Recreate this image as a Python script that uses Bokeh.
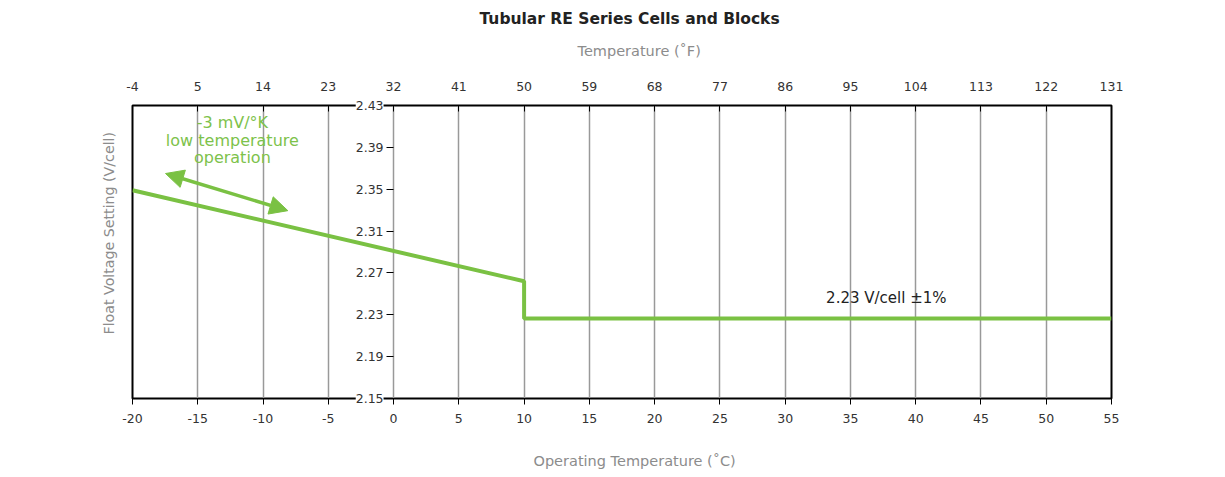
from bokeh.plotting import figure
from bokeh.models import (LinearAxis, Range1d, FixedTicker, Title, Arrow, NormalHead,
                          Label, CustomLabelingPolicy)
from bokeh.core.properties import value
from bokeh.embed import file_html
from bokeh.resources import INLINE

# ---- data ----
temp_c = [-20, 10, 10, 55]
float_v = [2.349, 2.262, 2.2265, 2.2265]
c_ticks = [-20, -15, -10, -5, 0, 5, 10, 15, 20, 25, 30, 35, 40, 45, 50, 55]
f_ticks = [-4, 5, 14, 23, 32, 41, 50, 59, 68, 77, 86, 95, 104, 113, 122, 131]
v_ticks = [2.15, 2.19, 2.23, 2.27, 2.31, 2.35, 2.39, 2.43]
note_lines = ["-3 mV/°K", "low temperature", "operation"]
note_x = [-12.35, -12.35, -12.35]
note_y = [2.414, 2.397, 2.380]
arrow_x = [-17.47, -8.1]
arrow_y = [2.365, 2.3295]
band_label = ["2.23 V/cell ±1%"]
band_x = [37.75]
band_y = [2.2459]

FONT = "DejaVu Sans"
GREEN = "#7ac143"
TEXT_GREEN = "#7dc24b"
GREY = "#8c8c8c"
TICK_COL = "#333333"

p = figure(frame_width=979, frame_height=293, output_backend="svg", toolbar_location=None,
           x_range=Range1d(-20, 55), y_range=Range1d(2.15, 2.43),
           min_border_left=132, min_border_right=106, min_border_bottom=0, min_border_top=105,
           title="Tubular RE Series Cells and Blocks")
p.extra_x_ranges = {"f": Range1d(-4, 131)}

p.outline_line_color = "black"
p.outline_line_width = 2
p.outline_line_alpha = 1

# bottom axis (Celsius)
xa = p.xaxis[0]
xa.ticker = FixedTicker(ticks=c_ticks)
xa.major_label_overrides = {t: str(t) for t in c_ticks}
xa.major_tick_out = 6
xa.major_tick_in = 0
xa.minor_tick_line_color = None
xa.major_tick_line_color = "black"
xa.axis_line_color = "black"
xa.major_label_standoff = 9
xa.major_label_text_font = FONT
xa.major_label_text_font_size = "12.5px"
xa.major_label_text_color = TICK_COL

# grid
p.xgrid.ticker = FixedTicker(ticks=c_ticks)
p.xgrid.grid_line_color = "#999999"
p.xgrid.grid_line_width = 1.5
p.ygrid.grid_line_color = None

# y axis at 0 C (tick marks only); its labels are drawn as labels
ya = p.yaxis[0]
ya.fixed_location = 0
ya.ticker = FixedTicker(ticks=v_ticks)
ya.major_tick_out = 7
ya.major_tick_in = 0
ya.minor_tick_line_color = None
ya.axis_line_color = None
ya.major_tick_line_color = "black"
ya.major_label_policy = CustomLabelingPolicy(code="return []")

# top axis (Fahrenheit)
top = LinearAxis(x_range_name="f", ticker=FixedTicker(ticks=f_ticks))
top.major_label_overrides = {t: str(t) for t in f_ticks}
top.major_tick_in = 6
top.major_tick_out = 0
top.minor_tick_line_color = None
top.major_tick_line_color = "black"
top.axis_line_color = "black"
top.major_label_standoff = 15
top.major_label_text_font = FONT
top.major_label_text_font_size = "12.5px"
top.major_label_text_color = TICK_COL
p.add_layout(top, "above")

# y tick labels; the two end ones sit in the side panels so the frame does not clip them
for v in v_ticks:
    lab = Label(x=0, y=v, text=f"{v:.2f}", x_offset=-10, text_align="right",
                text_baseline="middle", text_font=FONT, text_font_size="12.5px",
                text_color=TICK_COL, background_fill_color="white", background_fill_alpha=1.0)
    if v == max(v_ticks):
        p.add_layout(lab, "above")
    elif v == min(v_ticks):
        p.add_layout(lab, "below")
    else:
        p.add_layout(lab)

tF = Title(text="Temperature (˚F)", align="left", offset=445, text_font=FONT,
           text_font_size="14.5px", text_font_style="normal", text_color=GREY, standoff=22)
p.add_layout(tF, "above")

p.title.align = "left"
p.title.offset = 347
p.title.standoff = 3
p.title.text_font = FONT
p.title.text_font_size = "15.5px"
p.title.text_font_style = "bold"
p.title.text_color = "#222222"

tC = Title(text="Operating Temperature (˚C)", align="left", offset=401, text_font=FONT,
           text_font_size="14.5px", text_font_style="normal", text_color=GREY, standoff=32)
p.add_layout(tC, "below")

tV = Title(text="Float Voltage Setting (V/cell)", align="left", offset=64, text_font=FONT,
           text_font_size="14.2px", text_font_style="normal", text_color=GREY, standoff=32)
p.add_layout(tV, "left")

# data line
p.line(temp_c, float_v, line_color=GREEN, line_width=4)

# annotation
p.text(note_x, note_y, text=note_lines, text_font=value(FONT), text_font_size="16px",
       text_color=TEXT_GREEN, text_align="center", text_baseline="middle")
p.add_layout(Arrow(start=NormalHead(size=18, fill_color=GREEN, line_color=GREEN),
                   end=NormalHead(size=18, fill_color=GREEN, line_color=GREEN),
                   x_start=arrow_x[0], y_start=arrow_y[0], x_end=arrow_x[1], y_end=arrow_y[1],
                   line_color=GREEN, line_width=3.5))
p.text(band_x, band_y, text=band_label, text_font=value(FONT), text_font_size="15px",
       text_color="#222222", text_align="center", text_baseline="middle")

open("out.html", "w").write(file_html(p, INLINE))
